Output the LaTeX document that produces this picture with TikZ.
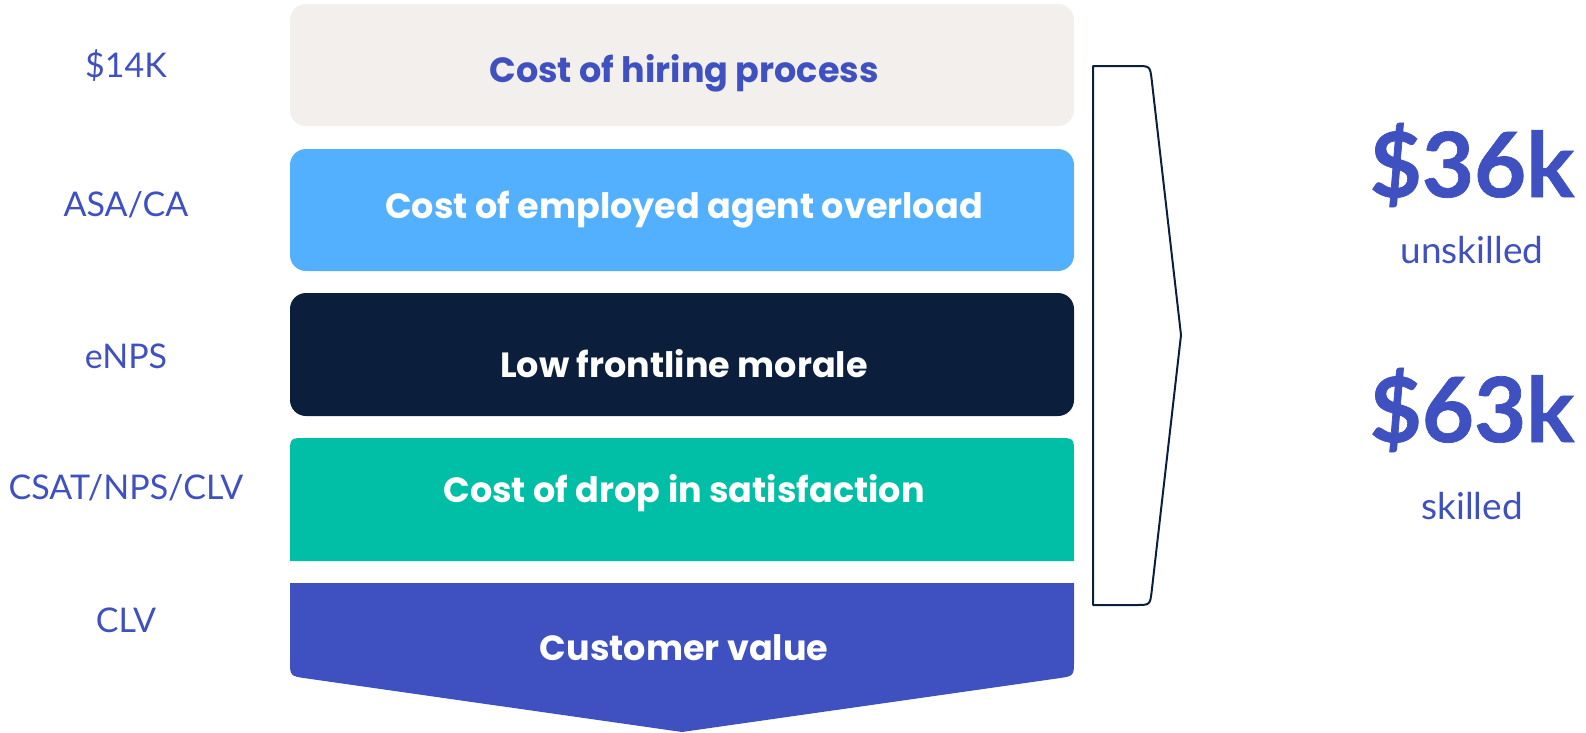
\documentclass[tikz,border=0pt]{standalone}
\usepackage{fontspec}
\setmainfont{Lato}
\newfontfamily\popbold{Poppins}[UprightFont=* Bold]
\newfontfamily\sidefont{Lato}
\newfontfamily\heavyfont{Lato}[UprightFont=* Bold, FakeBold=0.8]
\definecolor{indigo}{HTML}{3F51C0}
\definecolor{sand}{HTML}{F2EFEC}
\definecolor{sky}{HTML}{52B0FF}
\definecolor{navy}{HTML}{0B1F3D}
\definecolor{mint}{HTML}{00BFA6}
\begin{document}
\begin{tikzpicture}[x=1pt,y=-1pt,
  boxtext/.style={font=\popbold\fontsize{35}{40}\selectfont, text=white, anchor=base, inner sep=0pt},
  sidelabel/.style={font=\sidefont\fontsize{34}{38}\selectfont, text=indigo, anchor=center, inner sep=0pt},
  bignum/.style={font=\heavyfont\fontsize{90}{96}\selectfont, text=indigo, anchor=center, inner sep=0pt},
  smalllabel/.style={font=\sidefont\fontsize{37}{42}\selectfont, text=indigo, anchor=center, inner sep=0pt}]
\useasboundingbox (0,0) rectangle (1586,732);

% stacked bands
\fill[sand, rounded corners=16pt] (290,4) rectangle (1074,126);
\fill[sky, rounded corners=16pt] (290,149) rectangle (1074,271);
\fill[navy, rounded corners=16pt] (290,293) rectangle (1074,416);
\fill[mint] (290,561) -- (290,454) .. controls (290,438) .. (306,438)
  -- (1058,438) .. controls (1074,438) .. (1074,454) -- (1074,561) -- cycle;
\fill[indigo] (290,583) -- (1074,583) -- (1074,660)
  .. controls (1074,676) .. (1058.2,678.3) -- (682,732)
  -- (305.8,678.3) .. controls (290,676) .. (290,660) -- cycle;

% band captions
\node[boxtext, text=indigo] (t1) at (684,82) {Cost of hiring process};
\node[boxtext] (t2) at (684,218) {Cost of employed agent overload};
\node[boxtext] (t3) at (684,377) {Low frontline morale};
\node[boxtext] (t4) at (684,502) {Cost of drop in satisfaction};
\node[boxtext] (t5) at (684,660) {Customer value};

% metrics on the left
\node[sidelabel] (m1) at (126,66) {\$14K};
\node[sidelabel] (m2) at (126,205) {ASA/CA};
\node[sidelabel] (m3) at (126,356) {eNPS};
\node[sidelabel] (m4) at (126,488) {CSAT/NPS/CLV};
\node[sidelabel] (m5) at (126,620) {CLV};

% bracket
\draw[navy, line width=2pt, line join=round]
  (1093,66) -- (1136,66) .. controls (1150,66) .. (1151.7,79.9)
  -- (1181,335) -- (1151.7,591.1) .. controls (1150,605) .. (1136,605)
  -- (1093,605) -- cycle;

% totals
\node[bignum] (v1) at (1472,165) {\$36k};
\node[smalllabel] (l1) at (1472,250) {unskilled};
\node[bignum] (v2) at (1472,410) {\$63k};
\node[smalllabel] (l2) at (1472,506) {skilled};
\end{tikzpicture}
\end{document}
